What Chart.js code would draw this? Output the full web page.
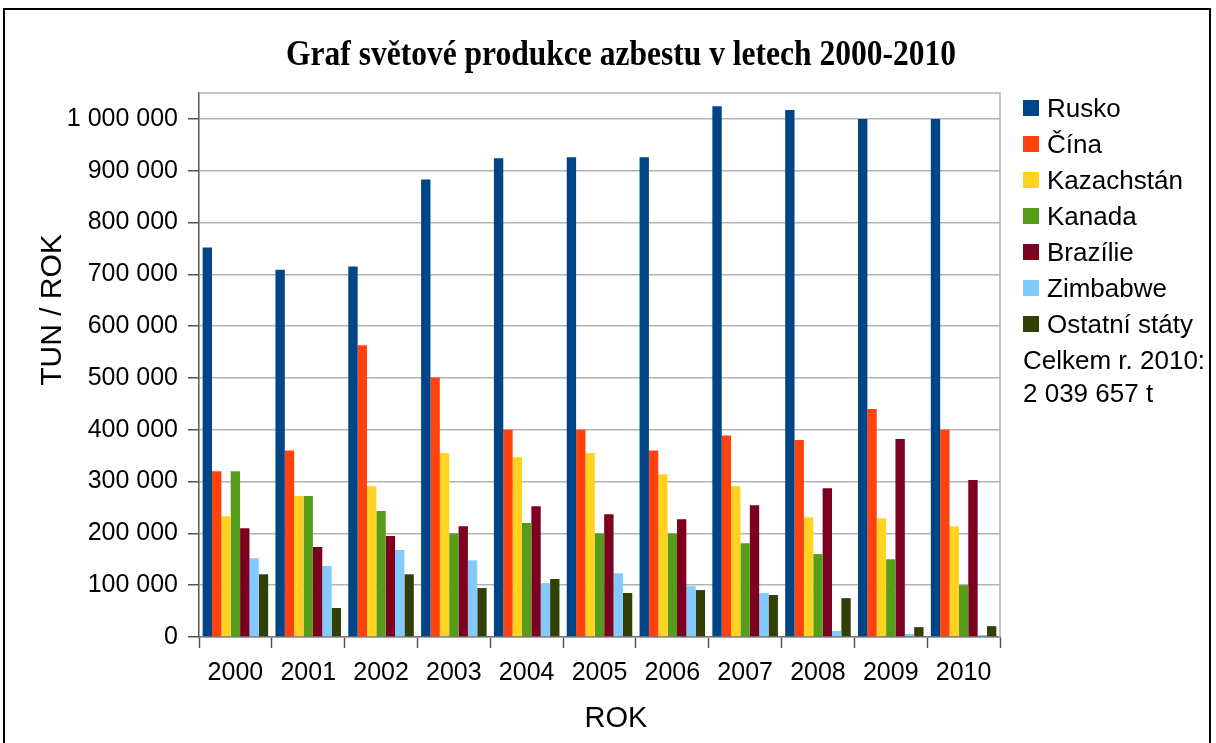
<!DOCTYPE html>
<html>
<head>
<meta charset="utf-8">
<script src="https://cdn.jsdelivr.net/npm/chart.js@4/dist/chart.umd.min.js"></script>
<style>
  html, body { margin: 0; padding: 0; background: #fff; }
  #wrap { position: relative; width: 1216px; height: 743px; overflow: hidden; font-family: "Liberation Sans", Arial, sans-serif; }
  #frame { position: absolute; left: 3px; top: 8px; width: 1208px; height: 740px; border: 2px solid #000; box-sizing: border-box; }
  #chart { position: absolute; left: 0; top: 0; }
  #title { position: absolute; top: 32px; left: 0; white-space: nowrap; font-family: "Liberation Serif", "Times New Roman", serif; font-weight: bold; font-size: 36px; line-height: 42px; transform-origin: left top; }
  #ytitle { position: absolute; font-size: 30px; line-height: 30px; white-space: nowrap; transform: translate(-50%, -50%) rotate(-90deg); left: 51px; top: 310px; }
  #xtitle { position: absolute; font-size: 29px; line-height: 30px; white-space: nowrap; transform: translateX(-50%); left: 616px; top: 702px; }
  .leg { position: absolute; left: 1023px; font-size: 26px; line-height: 26px; white-space: nowrap; }
  .leg.sw { padding-left: 24px; }
  .leg i { position: absolute; left: 0; top: 5px; width: 16px; height: 16px; }
</style>
</head>
<body>
<div id="wrap">
  <canvas id="chart" width="1216" height="743"></canvas>
  <div id="frame"></div>
  <div id="title">Graf světové produkce azbestu v letech 2000-2010</div>
  <div id="ytitle">TUN / ROK</div>
  <div id="xtitle">ROK</div>
  <div id="legend"></div>
</div>
<script>
var years = ["2000", "2001", "2002", "2003", "2004", "2005", "2006", "2007", "2008", "2009", "2010"];
var names = ["Rusko", "Čína", "Kazachstán", "Kanada", "Brazílie", "Zimbabwe", "Ostatní státy"];
var colors = ["#004586", "#ff420e", "#ffd320", "#579d1c", "#7e0021", "#83caff", "#314004"];

var rusko = [752000, 709000, 715000, 883000, 924000, 926000, 926000, 1024500, 1017000, 1000000, 1000000];
var cina = [320000, 360000, 563000, 501000, 400000, 400000, 360000, 389000, 380000, 440000, 400000];
var kazachstan = [233000, 272000, 291000, 355000, 347000, 355000, 314000, 291000, 231000, 229000, 214000];
var kanada = [320000, 272000, 243000, 200000, 220000, 200000, 200000, 181000, 160000, 150000, 100000];
var brazilie = [210000, 173500, 195000, 214000, 252600, 237000, 227500, 254500, 287000, 382000, 303000];
var zimbabwe = [152000, 137000, 168000, 148000, 104000, 123000, 98000, 85000, 11600, 5800, 3900];
var ostatni = [121000, 56000, 121000, 94500, 112000, 85000, 90600, 81000, 75000, 19000, 21000];

var yTicks = [0, 100000, 200000, 300000, 400000, 500000, 600000, 700000, 800000, 900000, 1000000];
var totalNote = ["Celkem r. 2010:", "2 039 657 t"];

var series = [rusko, cina, kazachstan, kanada, brazilie, zimbabwe, ostatni];

function fmt(v) {
    return String(v).replace(/\B(?=(\d{3})+(?!\d))/g, " ");
}

// legend
var legend = document.getElementById("legend");
names.forEach(function(n, i) {
    var d = document.createElement("div");
    d.className = "leg sw";
    d.style.top = (95 + i * 36) + "px";
    d.innerHTML = '<i style="background:' + colors[i] + '"></i>' + n;
    legend.appendChild(d);
});
totalNote.forEach(function(t, i) {
    var d = document.createElement("div");
    d.className = "leg";
    d.style.top = (347 + i * 33) + "px";
    d.textContent = t;
    legend.appendChild(d);
});

// title squeezed to the width it has in the picture
var title = document.getElementById("title");
var tw = title.getBoundingClientRect().width;
var sx = 670 / tw;
title.style.transform = "scaleX(" + sx + ")";
title.style.left = (621 - 335) + "px";

var framePlugin = {
    id: "plotFrame",
    beforeDatasetsDraw: function(chart) {
        var a = chart.chartArea, c = chart.ctx;
        c.save();
        c.strokeStyle = "#b3b3b3";
        c.lineWidth = 1.5;
        c.beginPath();
        c.moveTo(a.left, a.top);
        c.lineTo(a.right, a.top);
        c.lineTo(a.right, a.bottom);
        c.stroke();
        c.restore();
    }
};

var ctx = document.getElementById("chart").getContext("2d");
new Chart(ctx, {
    type: "bar",
    data: {
        labels: years,
        datasets: series.map(function(d, i) {
            return {
                label: names[i],
                data: d,
                backgroundColor: colors[i],
                borderWidth: 0,
                barPercentage: 1.0,
                categoryPercentage: 0.9
            };
        })
    },
    options: {
        responsive: false,
        animation: false,
        layout: { padding: { top: 93, right: 216, left: 0, bottom: 0 } },
        plugins: {
            legend: { display: false },
            title: { display: false },
            tooltip: { enabled: false }
        },
        scales: {
            x: {
                grid: { offset: true, drawOnChartArea: false, tickLength: 11, tickColor: "#555", tickWidth: 1.5 },
                border: { color: "#777", width: 1.5 },
                ticks: { color: "#000", font: { family: "Liberation Sans", size: 25 }, padding: 10, maxRotation: 0 },
                afterFit: function(s) { s.height = 106; }
            },
            y: {
                min: 0,
                max: 1050000,
                afterBuildTicks: function(s) {
                    s.ticks = yTicks.map(function(v) { return { value: v }; });
                },
                grid: { color: "#b3b3b3", lineWidth: 1.5, tickLength: 11, tickColor: "#555", tickWidth: 1.5 },
                border: { color: "#555", width: 1.5 },
                ticks: { color: "#000", font: { family: "Liberation Sans", size: 25 }, padding: 10,
                    callback: function(v) { return fmt(v); } },
                afterFit: function(s) { s.width = 199; }
            }
        }
    },
    plugins: [framePlugin]
});
</script>
</body>
</html>
